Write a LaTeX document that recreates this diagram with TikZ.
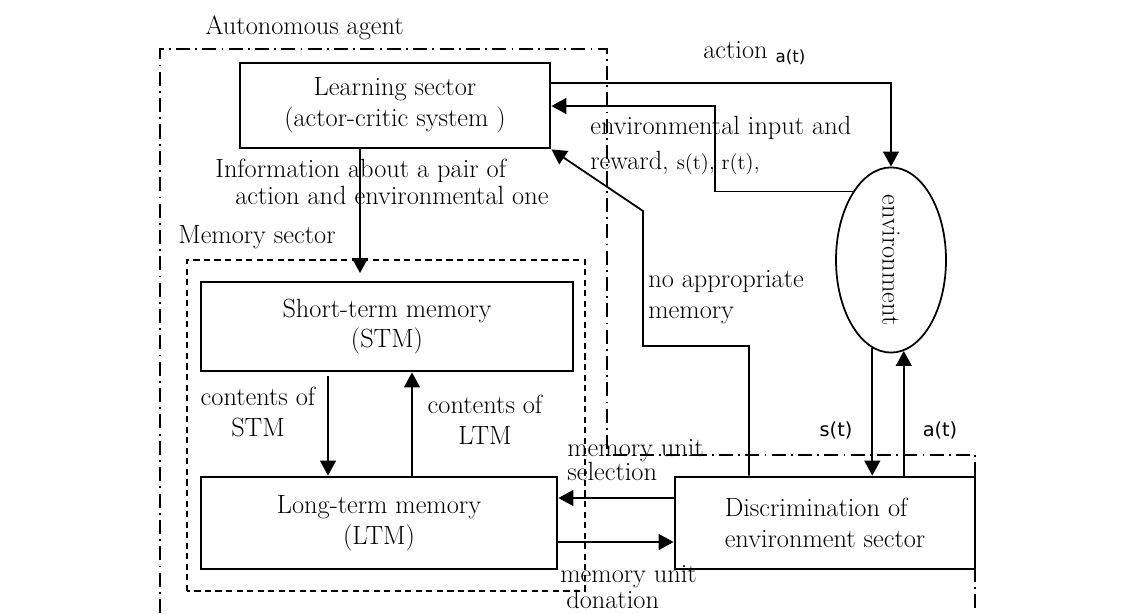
\documentclass[tikz,border=0pt]{standalone}
\usepackage{fontspec}
\newfontfamily\tagfont{DejaVu Sans}
\usetikzlibrary{arrows.meta,shapes.geometric}

\begin{document}
\fontsize{15}{17.5}\selectfont
\begin{tikzpicture}[
    sector/.style={rectangle, draw, line width=1.6pt, align=center},
    tag/.style={font=\tagfont\fontsize{11}{13}\selectfont}
  ]
  \useasboundingbox (0,0) rectangle (22.86,12.26);

  % agent border and memory sector
  \draw[line width=0.9pt, dash pattern=on 8pt off 3pt on 1pt off 3pt]
    (3.2,0) -- (3.2,11.28) -- (12.14,11.28) -- (12.14,3.16) -- (19.5,3.16) -- (19.5,0);
  \draw[line width=0.7pt, dash pattern=on 3.5pt off 2.5pt] (3.74,0.44) rectangle (11.7,7.06);

  \begin{scope}[every node/.style={sector}]
    \node [minimum width=6.2cm, minimum height=1.7cm] (0) at (7.9,10.15) {Learning sector\\(actor-critic system )};
    \node [minimum width=7.44cm, minimum height=1.78cm] (1) at (7.74,5.73) {Short-term memory\\(STM)};
    \node [minimum width=7.12cm, minimum height=1.84cm] (2) at (7.58,1.8) {Long-term memory\\(LTM)};
    \node [minimum width=6cm, minimum height=1.84cm, align=left] (3) at (16.5,1.8) {Discrimination of\\environment sector};
  \end{scope}
  \node [ellipse, draw, line width=1pt, minimum width=2.2cm, minimum height=3.48cm, inner sep=0pt] (4) at (17.82,7.06) {\rotatebox{-90}{environment}};

  % bend points
  \coordinate (e1) at (14.3,10.14);
  \coordinate (n0) at (14.98,5.34);
  \coordinate (n2) at (12.86,8.04);
  \coordinate (i1) at (7.2,6.8);
  \coordinate (c1) at (6.56,0);
  \coordinate (c2) at (8.24,0);
  \coordinate (m1) at (0,2.3);
  \coordinate (m2) at (0,1.42);
  \coordinate (a1) at (0,10.6);

  \begin{scope}[-{Triangle[length=8.5pt,width=9pt]}, line width=1pt]
    \draw (0.east |- a1) -| (4.north);
    \draw (4.119) -| (e1) -- (0.east |- e1);
    \draw (3.north -| n0) -- (n0) -| (n2) -- (0.south east);
    \draw (0.south -| i1) -- (i1);
    \draw [shorten <=2pt] (1.south -| c1) -- (2.north -| c1);
    \draw (2.north -| c2) -- (1.south -| c2);
    \draw (3.west |- m1) -- (2.east |- m1);
    \draw (2.east |- m2) -- (3.west |- m2);
    \draw (4.258) -- (4.258 |- 3.north);
    \draw (3.north -| 4.278) -- (4.278);
  \end{scope}

  \begin{scope}[every node/.style={inner sep=0pt}]
    \node [anchor=west] (5) at (4.1,11.7) {Autonomous agent};
    \node [anchor=west] (6) at (3.56,7.52) {Memory sector};
    \node [anchor=west] (7) at (14.06,11.2) {action \raisebox{-0.35ex}{\tagfont\fontsize{9.5}{11}\selectfont a(t)}};
    \node [anchor=west, align=left, font=\fontsize{15}{15.4}\selectfont] (8) at (4.3,8.63) {Information about a pair of\\\hspace*{0.4cm}action and environmental one};
    \node [anchor=west, align=left] (9) at (11.8,9.35) {environmental input and\\[2.5pt]reward, {\fontsize{12}{14}\selectfont s(t), r(t),}};
    \node [anchor=west, align=left] (10) at (12.96,6.32) {no appropriate\\memory};
    \node [align=center] (11) at (5.16,4.02) {contents of\\STM};
    \node [align=center] (12) at (9.7,3.86) {contents of\\LTM};
    \node [anchor=west, align=left, font=\fontsize{15}{13.7}\selectfont] (13) at (11.34,3.06) {memory unit\\selection};
    \node [anchor=west, align=left, font=\fontsize{15}{12}\selectfont] (14) at (11.2,0.52) {memory unit\\\hspace*{0.12cm}donation};
    \node [tag] (15) at (16.72,3.66) {s(t)};
    \node [tag] (16) at (18.8,3.66) {a(t)};
  \end{scope}
\end{tikzpicture}
\end{document}
